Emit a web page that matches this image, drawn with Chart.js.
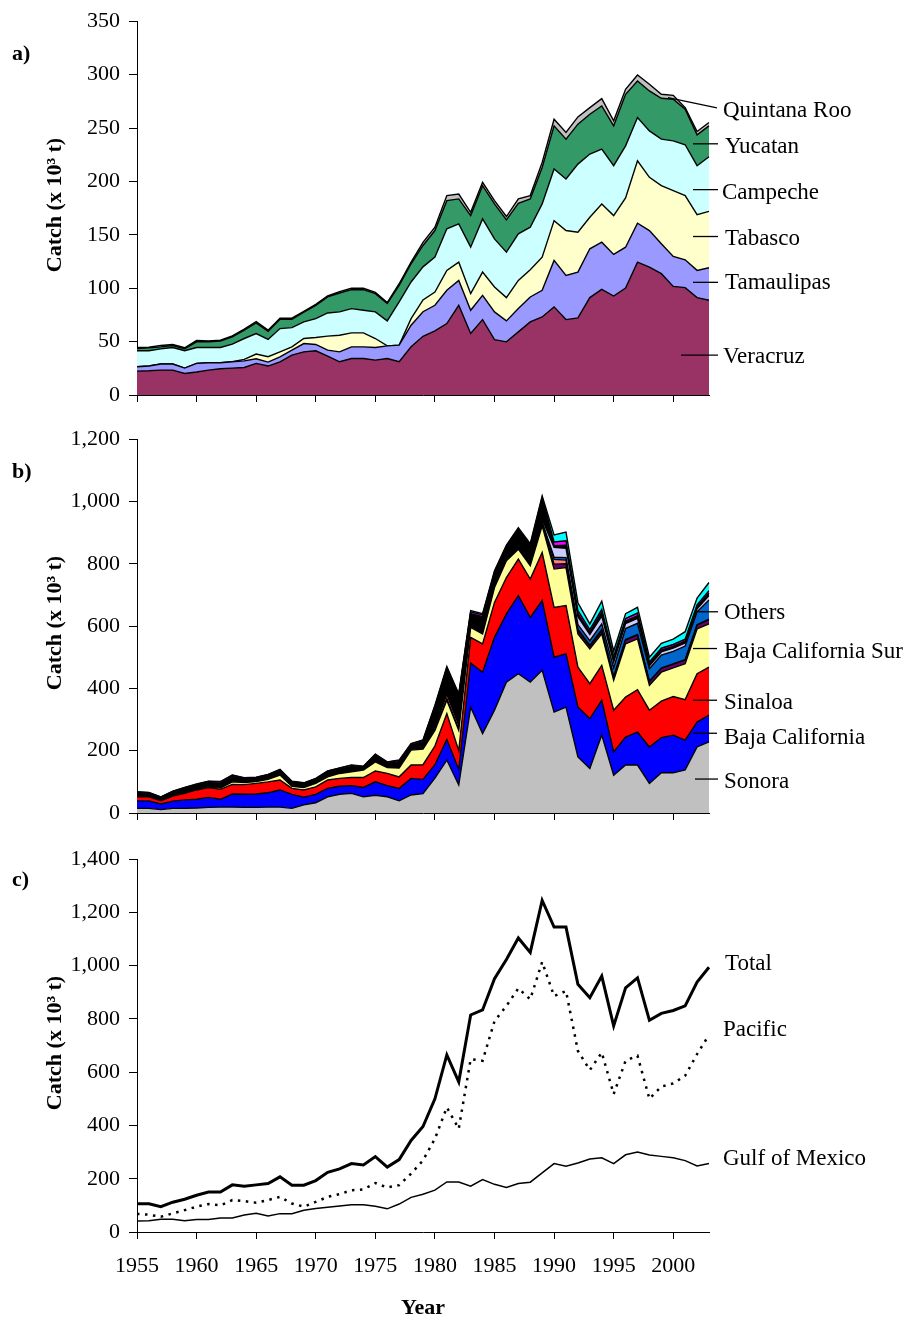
<!DOCTYPE html>
<html><head><meta charset="utf-8">
<script src="https://cdn.jsdelivr.net/npm/chart.js@4.4.1/dist/chart.umd.min.js"></script>
<style>
html,body{margin:0;padding:0;background:#fff;}
#wrap{position:relative;width:909px;height:1321px;background:#fff;overflow:hidden;}
canvas{position:absolute;left:0;}
</style></head><body>
<div id="wrap">
<canvas id="ca" width="909" height="421" style="top:-1px"></canvas>
<canvas id="cb" width="909" height="423" style="top:417px"></canvas>
<canvas id="cc" width="909" height="484" style="top:837px"></canvas>
</div>
<script>
// ---------- categories ----------
const years = [1955,1956,1957,1958,1959,1960,1961,1962,1963,1964,1965,1966,1967,1968,1969,1970,1971,1972,1973,1974,1975,1976,1977,1978,1979,1980,1981,1982,1983,1984,1985,1986,1987,1988,1989,1990,1991,1992,1993,1994,1995,1996,1997,1998,1999,2000,2001,2002,2003];

// ---------- panel a: Gulf of Mexico states (x 10^3 t) ----------
const veracruz    = [22.4,22.7,23.3,23.3,20.2,21.5,23.3,24.6,25.2,25.8,29.6,27.1,31.1,37.3,40.4,41.4,36.4,31.1,34.2,34.2,32.7,34.2,31.1,45.1,55,60.1,66.9,84,57.6,70.6,51.9,49.8,59.1,68.5,73.1,82.5,70.6,72.2,91.2,98.9,92.7,100.2,124.4,119.8,113.6,101.7,100.5,91.2,88.7];
const tamaulipas  = [4.0,4.4,5.7,5.7,5.0,8.1,6.9,5.6,5.9,6.2,4.3,3.7,4.7,4.7,7.8,5.9,5.6,9.3,10.9,10.9,11.8,11.8,15.6,20.2,23,23.9,31.1,23.3,21.7,22.7,25.9,19.6,21.8,23.3,24.9,43.5,41.4,42.9,45.7,44.2,38.9,38.2,36.4,34.2,28,28,26.1,25.5,30.5];
const tabasco     = [0,0,0,0,0,0,0,0,0,1.3,4.4,5.0,4.6,3.1,4.7,6.5,13.1,15.6,13.1,13.1,8.4,0,0,6.2,11,12.4,18.7,17.1,15.6,21.8,23.3,21.8,26.4,25.5,31.1,37.3,42.0,37.3,29.5,35.8,36.4,46.1,58.5,49.8,54.4,61.6,60.1,52.2,52.8];
const campeche    = [15.0,14.3,14.2,15.5,16.2,14.9,14.3,14.3,16.5,19.6,19.2,16.2,21.8,18.0,15.5,17.7,21.7,21.8,22.7,21.1,24.9,23.4,40.4,34.3,31,32.7,38.9,35.8,43.5,49.8,45.1,42.6,43.6,39.8,49.8,48.3,48.2,63.8,59.2,51.3,46.7,48.8,40.5,43.5,43.6,46.7,47.6,45.8,51.1];
const yucatan     = [2.2,2.8,1.9,1.8,1.8,5.3,5.3,5.9,6.8,7.8,10.0,7.7,8.7,7.8,9.1,12.5,15.0,17.7,17.7,19.3,17.1,16.2,15.6,17.1,20,24.9,26.4,23.4,29.6,31.1,32.7,30.2,28.6,26.5,34.2,40.4,37.4,37.4,37.3,40.5,37.3,48.3,34.2,37.4,38.2,38.9,33.3,28.9,28.9];
const quintanaRoo = [0.9,0.6,1.2,1.0,1.0,1.2,0.9,0.9,1.0,0.9,1.3,1.0,1.0,1.0,0.9,0.9,0.9,1.3,1.3,1.3,1.2,0.9,1.5,1.5,3,3.1,4.7,4.6,3.1,3.1,3.1,3.1,4.1,3.1,4.7,6.2,6.2,6.8,6.2,6.8,4.7,4.6,5.6,6.2,3.8,3.7,1.5,3.1,3.1];

// ---------- panel b: Pacific states (x 10^3 t) ----------
const sonora            = [15,15,11,15,15,16,18,19,19,18,18,19,19,15,26,33,52,60,63,52,57,52,39,58,62,112,170,90,340,255,330,420,447,420,458,324,340,180,143,250,121,154,154,95,129,129,138,212,228];
const bajaCalifornia    = [24,24,18,23,27,28,32,25,42,42,43,46,55,45,25,27,27,26,25,30,43,36,40,53,46,43,66,50,141,197,234,219,251,208,224,176,171,160,160,112,75,90,106,117,113,121,96,80,86];
const sinaloa           = [13,13,10,16,21,30,32,32,31,31,34,35,32,19,23,24,27,25,26,32,35,39,37,43,47,60,83,60,83,91,112,117,117,123,154,160,155,128,112,112,134,128,136,118,117,124,130,155,154];
const bajaCaliforniaSur = [1,1,1,2,2,2,2,4,8,7,6,8,16,7,8,11,10,16,18,24,29,19,28,48,50,50,43,65,32,32,48,54,32,43,86,123,122,107,112,101,96,171,163,80,93,92,115,144,139];
const othersA = [2,2,2,2,2,2,2,2,2,2,2,2,2,2,2,2,2,2,2,2,2,2,2,2,3,4,5,5,4,4,4,4,4,4,5,16,12,10,8,10,10,12,12,12,12,12,12,12,14];
const othersB = [1,1,1,1,1,1,1,1,1,1,1,1,1,1,1,1,1,1,1,1,1,1,1,1,2,8,14,12,3,3,3,3,3,3,4,15,12,5,4,4,2,2,2,1,1,1,1,1,1];
const othersC = [1,1,1,1,1,1,1,1,1,1,1,1,1,1,1,1,1,1,1,1,1,1,1,1,2,3,4,4,3,3,3,3,3,3,3,7,8,15,14,18,28,35,36,40,42,40,44,42,62];
const othersD = [1,1,1,1,1,1,1,1,1,1,1,1,1,1,1,1,1,1,1,1,1,1,1,1,2,3,4,4,3,3,3,4,5,5,8,32,30,25,20,25,18,16,16,10,10,10,10,10,14];
const othersE = [7,5,4,6,8,8,8,11,12,6,6,7,9,8,7,7,10,9,12,4,14,9,16,11,15,55,72,84,31,42,32,27,45,47,66,5,10,10,8,12,10,8,8,6,6,6,6,6,8];
const othersF = [2,2,2,2,3,3,4,4,4,3,2,3,3,2,2,3,3,3,4,2,5,3,4,4,4,4,5,5,6,6,5,5,5,5,5,12,14,10,8,10,8,8,9,6,6,6,6,6,8];
const othersG = [1,1,1,1,1,1,1,1,1,1,1,1,1,1,1,1,1,1,1,1,1,1,1,1,2,4,4,4,4,4,4,4,4,4,5,23,28,25,18,26,18,16,18,15,16,17,24,22,26];

// ---------- panel c: totals (x 10^3 t) ----------
const totalCatch   = [106,106,95,112,123,138,150,150,177,172,177,182,207,176,176,193,224,237,257,252,283,244,272,344,396,500,665,564,815,834,951,1023,1104,1050,1245,1145,1145,930,880,961,774,917,954,795,821,832,849,939,994];
const pacificCatch = [68,65,57,70,82,95,105,100,120,116,110,120,132,107,95,113,132,142,157,160,184,167,176,219,269,350,468,388,649,643,792,849,915,874,1014,886,905,680,608,674,518,643,662,500,546,558,587,668,740];
const gulfCatch    = [41,42,48,48,42,47,47,53,53,64,70,60,69,69,82,88,93,98,102,102,97,87,105,130,142,157,188,188,172,197,179,167,182,187,222,257,247,259,274,279,257,290,300,289,284,279,268,248,257];

// ---------- tick values ----------
const yTicksA = [0,50,100,150,200,250,300,350];
const yTicksB = [0,200,400,600,800,1000,1200];
const yTicksC = [0,200,400,600,800,1000,1200,1400];

const SERIF = '"Liberation Serif", "Times New Roman", serif';

const panelDecor = {
  id: 'panelDecor',
  afterDraw(chart, args, o) {
    const ctx = chart.ctx, a = chart.chartArea, ys = chart.scales.y;
    ctx.save();
    ctx.fillStyle = '#000'; ctx.strokeStyle = '#000';
    ctx.textBaseline = 'middle';
    ctx.font = 'bold 22px ' + SERIF;
    ctx.textAlign = 'left';
    ctx.fillText(o.letter, 12, o.letterY);
    ctx.save();
    ctx.translate(55, o.titleY);
    ctx.rotate(-Math.PI / 2);
    ctx.textAlign = 'center';
    ctx.fillText('Catch (x 10\u00B3 t)', 0, 0);
    ctx.restore();
    ctx.font = '23px ' + SERIF;
    ctx.textAlign = 'left';
    ctx.lineWidth = 1.3;
    for (const L of o.labels) {
      if (L.line) {
        ctx.beginPath();
        ctx.moveTo(a.right + L.line[0], ys.getPixelForValue(L.line[1]));
        ctx.lineTo(a.right + L.line[2], ys.getPixelForValue(L.line[3]));
        ctx.stroke();
      }
      ctx.fillText(L.text, a.right + L.dx, ys.getPixelForValue(L.value));
    }
    if (o.xTitle) {
      ctx.font = 'bold 22px ' + SERIF;
      ctx.textAlign = 'center';
      ctx.fillText(o.xTitle, (a.left + a.right) / 2, o.xTitleY);
    }
    ctx.restore();
  }
};

function makeOptions(cfg) {
  return {
    responsive: false, animation: false, devicePixelRatio: 1,
    layout: { padding: { top: cfg.padTop, right: 200, left: 0, bottom: 0 } },
    plugins: { legend: { display: false }, tooltip: { enabled: false }, panelDecor: cfg.decor },
    elements: { point: { radius: 0 }, line: { tension: 0 } },
    scales: {
      x: {
        type: 'category', offset: false,
        grid: { display: true, drawOnChartArea: false, drawTicks: true, tickLength: 7, lineWidth: 1,
                color: (c) => (c.index % 5 === 0 ? '#000' : 'rgba(0,0,0,0)') },
        border: { display: true, color: '#000', width: 1 },
        ticks: { display: cfg.showX, autoSkip: false, maxRotation: 0, minRotation: 0, padding: 14, color: '#000',
                 font: { family: SERIF, size: 22 },
                 callback: (v, i) => (years[i] % 5 === 0 ? String(years[i]) : '') },
        afterFit: (s) => { s.height = cfg.xHeight; }
      },
      y: {
        min: 0, max: cfg.ticks[cfg.ticks.length - 1], stacked: cfg.stacked,
        afterBuildTicks: (s) => { s.ticks = cfg.ticks.map(v => ({ value: v })); },
        ticks: { color: '#000', padding: 9, font: { family: SERIF, size: 22 },
                 callback: (v) => Number(v).toLocaleString('en-US') },
        grid: { drawOnChartArea: false, drawTicks: true, tickLength: 8, color: '#000', lineWidth: 1 },
        border: { display: true, color: '#000', width: 1 },
        afterFit: (s) => { s.width = 137; }
      }
    }
  };
}

function area(label, data, color, i) {
  return { label, data, backgroundColor: color, borderColor: '#000', borderWidth: 1.4,
           fill: i === 0 ? 'origin' : '-1', pointRadius: 0, tension: 0 };
}

// ---------- panel a ----------
new Chart(document.getElementById('ca'), {
  type: 'line',
  data: { labels: years, datasets: [
    area('Veracruz', veracruz, '#993366', 0),
    area('Tamaulipas', tamaulipas, '#9999FF', 1),
    area('Tabasco', tabasco, '#FFFFCC', 2),
    area('Campeche', campeche, '#CCFFFF', 3),
    area('Yucatan', yucatan, '#339966', 4),
    area('Quintana Roo', quintanaRoo, '#C0C0C0', 5)
  ] },
  options: makeOptions({ padTop: 20, xHeight: 25, showX: false, stacked: true, ticks: yTicksA,
    decor: { letter: 'a)', letterY: 55, titleY: 206, labels: [
      { text: 'Quintana Roo', value: 265.8, dx: 14, line: [-41, 278.4, 8, 268.8] },
      { text: 'Yucatan', value: 232.4, dx: 16, line: [-16, 235.2, 9, 235.2] },
      { text: 'Campeche', value: 189.5, dx: 13, line: [-16, 192.3, 9, 192.3] },
      { text: 'Tabasco', value: 146.5, dx: 16, line: [-16, 148.4, 9, 148.4] },
      { text: 'Tamaulipas', value: 104.5, dx: 16, line: [-16, 105.5, 9, 105.5] },
      { text: 'Veracruz', value: 35.5, dx: 14, line: [-28, 37.3, 9, 37.3] }
    ] } }),
  plugins: [panelDecor]
});

// ---------- panel b ----------
new Chart(document.getElementById('cb'), {
  type: 'line',
  data: { labels: years, datasets: [
    area('Sonora', sonora, '#C0C0C0', 0),
    area('Baja California', bajaCalifornia, '#0000FF', 1),
    area('Sinaloa', sinaloa, '#FF0000', 2),
    area('Baja California Sur', bajaCaliforniaSur, '#FFFF99', 3),
    area('Others 1', othersA, '#660066', 4),
    area('Others 2', othersB, '#FF8080', 5),
    area('Others 3', othersC, '#0066CC', 6),
    area('Others 4', othersD, '#CCCCFF', 7),
    area('Others 5', othersE, '#000000', 8),
    area('Others 6', othersF, '#FF00FF', 9),
    area('Others 7', othersG, '#00FFFF', 10)
  ] },
  options: makeOptions({ padTop: 18, xHeight: 27, showX: false, stacked: true, ticks: yTicksB,
    decor: { letter: 'b)', letterY: 55, titleY: 206, labels: [
      { text: 'Others', value: 643, dx: 15, line: [-11, 646, 9, 646] },
      { text: 'Baja California Sur', value: 518, dx: 15, line: [-16, 528, 8, 528] },
      { text: 'Sinaloa', value: 352, dx: 15, line: [-16, 362, 8, 362] },
      { text: 'Baja California', value: 240, dx: 15, line: [-16, 256, 8, 256] },
      { text: 'Sonora', value: 99, dx: 15, line: [-14, 109, 9, 109] }
    ] } }),
  plugins: [panelDecor]
});

// ---------- panel c ----------
new Chart(document.getElementById('cc'), {
  type: 'line',
  data: { labels: years, datasets: [
    { label: 'Total', data: totalCatch, borderColor: '#000', borderWidth: 3, fill: false, pointRadius: 0, tension: 0 },
    { label: 'Pacific', data: pacificCatch, borderColor: '#000', borderWidth: 2.5, borderDash: [2.5, 5.5], fill: false, pointRadius: 0, tension: 0 },
    { label: 'Gulf of Mexico', data: gulfCatch, borderColor: '#000', borderWidth: 1.5, fill: false, pointRadius: 0, tension: 0 }
  ] },
  options: makeOptions({ padTop: 18, xHeight: 89, showX: true, stacked: false, ticks: yTicksC,
    decor: { letter: 'c)', letterY: 43, titleY: 206, xTitle: 'Year', xTitleY: 471, labels: [
      { text: 'Total', value: 1006, dx: 16 },
      { text: 'Pacific', value: 759, dx: 14 },
      { text: 'Gulf of Mexico', value: 273, dx: 14 }
    ] } }),
  plugins: [panelDecor]
});
</script>
</body></html>
